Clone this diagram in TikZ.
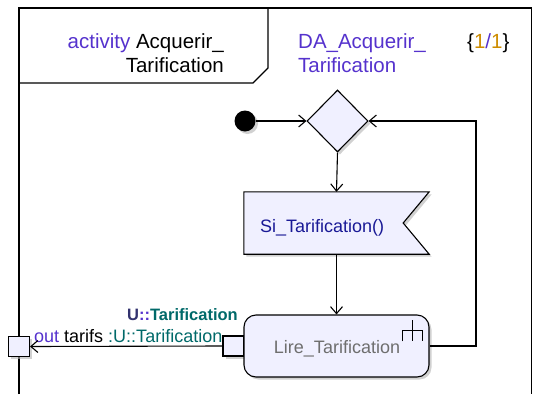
\documentclass[tikz,border=0pt]{standalone}
\usepackage{fontspec}
\setmainfont{Liberation Sans}
\usetikzlibrary{shapes.geometric, arrows.meta, positioning, shadows}
\usepackage{xcolor}
\definecolor{umlfill}{RGB}{240,240,255}
\definecolor{kwblue}{RGB}{85,50,205}
\definecolor{sigblue}{RGB}{25,25,150}
\definecolor{typeteal}{RGB}{0,105,105}
\definecolor{pkgnavy}{RGB}{50,50,110}
\definecolor{multorange}{RGB}{205,140,0}
\definecolor{actgray}{RGB}{110,110,110}

\begin{document}
\begin{tikzpicture}[x=1pt, y=-1pt,
  every node/.style={inner sep=0pt, font=\fontsize{18}{22}\selectfont},
  headtext/.style={font=\fontsize{20.5}{24}\selectfont},
  boxshadow/.style={drop shadow={shadow xshift=2.5pt, shadow yshift=-2.5pt,
    fill=black!30, opacity=0.6}},
  initial/.style={circle, fill=black, minimum size=21pt, boxshadow},
  decision/.style={diamond, draw, line width=1.1pt, fill=umlfill,
    minimum width=61pt, minimum height=62pt, boxshadow},
  actionbox/.style={rectangle, draw, line width=1.1pt, fill=umlfill,
    rounded corners=12pt, minimum width=185pt, minimum height=62pt,
    text=actgray, boxshadow},
  pinbox/.style={rectangle, draw, line width=1.1pt, fill=umlfill,
    minimum width=21pt, minimum height=20pt, boxshadow},
  flow/.style={draw, line width=1.1pt, -{Straight Barb[length=7pt, width=12pt]}}
]
\useasboundingbox (0,0) rectangle (533,394);

% frame and header tab
\draw[line width=1.4pt] (19,394) -- (19,8) -- (531.5,8) -- (531.5,394);
\draw[line width=1.1pt] (19,83) -- (253,83) -- (268,68) -- (268,8);
\node[headtext, anchor=base east, align=right] (title) at (224,72)
  {\textcolor{kwblue}{activity} Acquerir\_\\Tarification};
\node[headtext, anchor=base west, align=left, text=kwblue] (diagname) at (298,72)
  {DA\_Acquerir\_\\Tarification};
\node[headtext, anchor=base west] (pages) at (467,48)
  {\{\textcolor{multorange}{1}\textcolor{kwblue}{/}\textcolor{multorange}{1}\}};

% nodes
\node[initial] (start) at (245,121) {};
\node[decision] (dec) at (337.5,121) {};
\node[minimum width=185pt, minimum height=62pt] (sig) at (336.5,223) {};
\draw[line width=1.1pt, fill=umlfill, boxshadow] (sig.north west) -- (sig.north east)
  -- ([xshift=-26pt]sig.east) -- (sig.south east) -- (sig.south west) -- cycle;
\node[anchor=base west, text=sigblue] (sigtext) at ([xshift=16pt]sig.west |- 0,232)
  {Si\_Tarification()};
\node[pinbox] (pinA) at (233.5,346) {};
\node[pinbox] (pinF) at (19,346.5) {};
\node[actionbox] (act) at (336.5,346) {};
\node[anchor=base, text=actgray] (acttext) at (337,353) {Lire\_Tarification};
\draw[line width=1.1pt] ([shift={(-17,6)}]act.north east) -- ++(0,21);
\draw[line width=1.1pt] ([shift={(-27,27)}]act.north east) -- ++(0,-11)
  -- ++(20,0) -- ++(0,11);
\coordinate (loop) at (476,346);

% labels of the pins
\node[anchor=base east, font=\fontsize{16.5}{20}\selectfont\bfseries] (ptype) at (238,320)
  {\textcolor{pkgnavy}{U}\textcolor{kwblue}{::}\textcolor{typeteal}{Tarification}};
\node[anchor=base west] (plabel) at (34,342)
  {\textcolor{kwblue}{out} tarifs \textcolor{typeteal}{:U::Tarification}};

% flows
\draw[flow] (start) -- (dec.west);
\draw[flow] (dec.south) -- (sig.north);
\draw[flow] (sig.south) -- (act.north);
\draw[flow] (act.east) -- (loop) |- (dec.east);
\draw[flow] (pinA.west) -- (pinF.east);

\end{tikzpicture}
\end{document}
